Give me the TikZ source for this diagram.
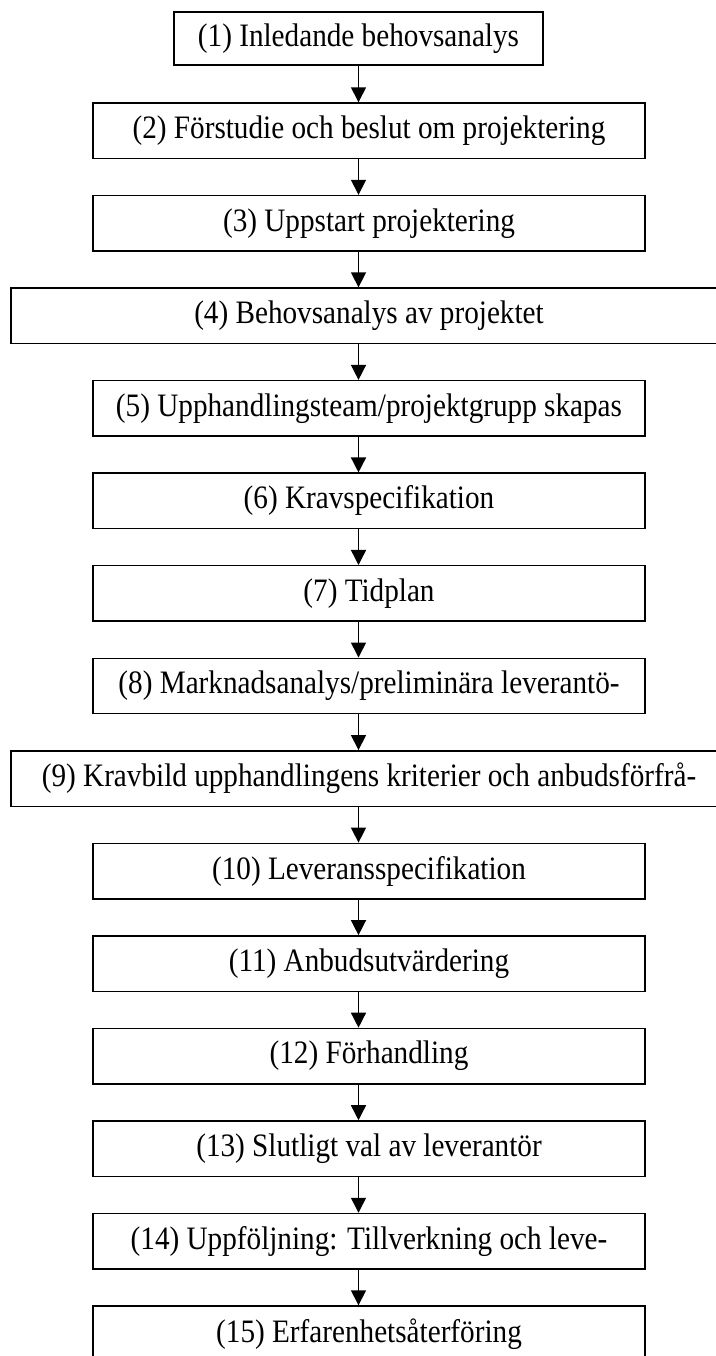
\documentclass[tikz,border=0pt]{standalone}
\usepackage{fontspec}
\usepackage{graphicx}
\setmainfont{Liberation Serif}
\usetikzlibrary{arrows.meta}
\newcommand{\vstretch}[1]{\scalebox{1}[1.12]{#1}}
\begin{document}
\begin{tikzpicture}[x=0.75pt,y=-0.75pt,
  stepbox/.style={draw=black,line width=1.1pt,inner sep=0pt,minimum height=41.6pt,minimum width=414pt,font=\fontsize{21.9}{26}\selectfont},
  widebox/.style={stepbox,minimum width=537pt},
  arr/.style={line width=1.1pt,-{Triangle[width=11.25pt,length=11.25pt]}}]
\useasboundingbox (0,0) rectangle (715,1356);
\node[stepbox,minimum width=276.75pt,minimum height=39.75pt] (b1) at (358.5,38.5) {\vstretch{(1) Inledande behovsanalys}};
\node[stepbox] (b2) at (369,130.75) {\vstretch{(2) Förstudie och beslut om projektering}};
\node[stepbox] (b3) at (369,223.29) {\vstretch{(3) Uppstart projektering}};
\node[widebox] (b4) at (369,315.83) {\vstretch{(4) Behovsanalys av projektet}};
\node[stepbox] (b5) at (369,408.37) {\vstretch{(5) Upphandlingsteam/projektgrupp skapas}};
\node[stepbox] (b6) at (369,500.91) {\vstretch{(6) Kravspecifikation}};
\node[stepbox] (b7) at (369,593.45) {\vstretch{(7) Tidplan}};
\node[stepbox] (b8) at (369,685.99) {\vstretch{(8) Marknadsanalys/preliminära leverantö-}};
\node[widebox] (b9) at (369,778.53) {\vstretch{(9) Kravbild upphandlingens kriterier och anbudsförfrå-}};
\node[stepbox] (b10) at (369,871.07) {\vstretch{(10) Leveransspecifikation}};
\node[stepbox] (b11) at (369,963.61) {\vstretch{(11) Anbudsutvärdering}};
\node[stepbox] (b12) at (369,1056.15) {\vstretch{(12) Förhandling}};
\node[stepbox] (b13) at (369,1148.69) {\vstretch{(13) Slutligt val av leverantör}};
\node[stepbox] (b14) at (369,1241.23) {\vstretch{(14) Uppföljning: Tillverkning och leve-}};
\node[stepbox] (b15) at (369,1333.77) {\vstretch{(15) Erfarenhetsåterföring}};
\draw[arr] (b1.south) -- (b1.south |- b2.north);
\foreach \a/\b in {b2/b3,b3/b4,b4/b5,b5/b6,b6/b7,b7/b8,b8/b9,b9/b10,b10/b11,b11/b12,b12/b13,b13/b14,b14/b15}
  \draw[arr] (b1.south |- \a.south) -- (b1.south |- \b.north);
\end{tikzpicture}
\end{document}
